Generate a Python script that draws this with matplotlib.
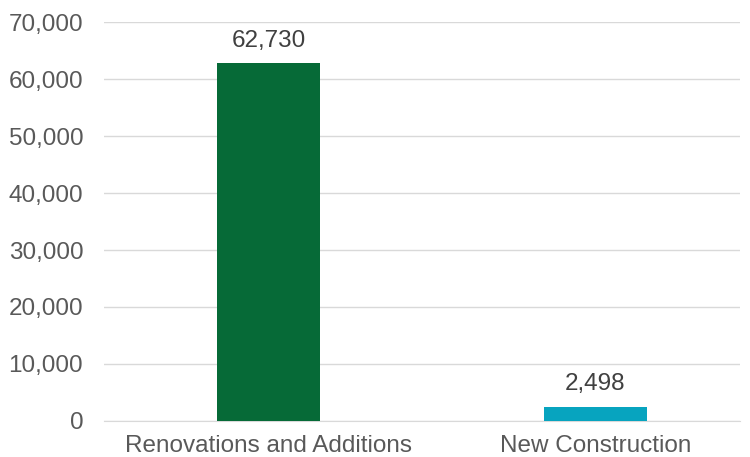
import matplotlib.pyplot as plt
from matplotlib.ticker import FuncFormatter

plt.rcParams['font.family'] = ['Liberation Sans', 'DejaVu Sans']

categories = ["Renovations and Additions", "New Construction"]
values = [62730, 2498]
colors = ["#066A37", "#07A4BF"]

fig = plt.figure(figsize=(7.5, 4.57), dpi=100)
ax = fig.add_axes([0.1387, 0.0788, 0.848, 0.873])

x = list(range(len(categories)))
bars = ax.bar(x, values, width=0.315, color=colors, zorder=3)
for b, v in zip(bars, values):
    ax.annotate(f"{v:,}", (b.get_x() + b.get_width() / 2, v),
                xytext=(0, 12), textcoords="offset points",
                ha="center", va="baseline", fontsize=17.5, color="#404040")

ax.set_xlim(-0.503, 1.442)
ax.set_ylim(0, 70000)
ax.set_yticks(range(0, 70001, 10000))
ax.yaxis.set_major_formatter(FuncFormatter(lambda v, p: f"{int(v):,}"))
ax.set_xticks(x)
ax.set_xticklabels(categories)
ax.tick_params(axis="both", length=0, labelsize=17.5, labelcolor="#595959")
ax.tick_params(axis="y", pad=15)
ax.tick_params(axis="x", pad=10)
ax.grid(axis="y", color="#D9D9D9", linewidth=1, zorder=0)
for s in ["top", "right", "left"]:
    ax.spines[s].set_visible(False)
ax.spines["bottom"].set_color("#D9D9D9")

fig.savefig("out.png", dpi=100)
